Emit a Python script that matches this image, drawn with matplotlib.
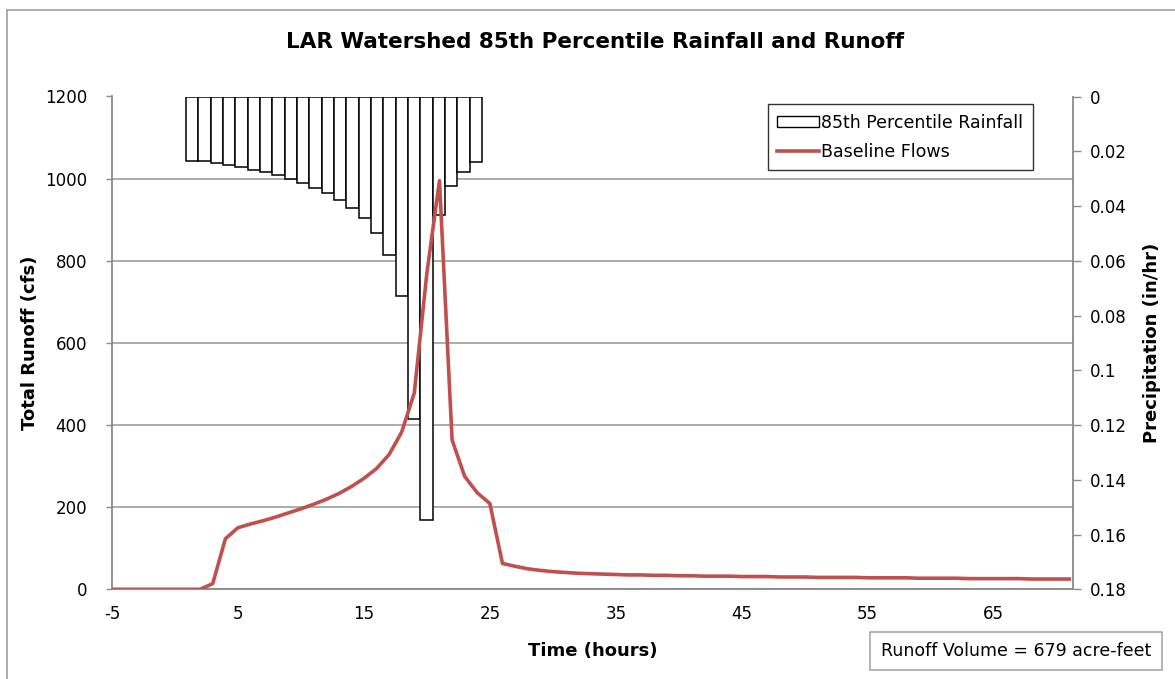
import numpy as np
import matplotlib
matplotlib.use("Agg")
import matplotlib.pyplot as plt
from matplotlib.lines import Line2D
from matplotlib.patches import Patch

# ── Data ─────────────────────────────────────────────────────────────────────
TIME_HR = np.arange(-5, 72)          # hourly time steps
RUNOFF_CFS = [
    0, 0, 0, 0, 0, 0, 0, 0,           # -5 .. 2
    14, 123, 150, 159, 167, 176, 186, 196, 207, 219,   # 3 .. 12
    233, 250, 270, 294, 328, 383, 478, 770, 995, 364,  # 13 .. 22
    275, 235, 209, 63, 56, 50, 46, 43, 41, 39,         # 23 .. 32
    38, 37, 36, 35, 35, 34, 34, 33, 33, 32,            # 33 .. 42
    32, 32, 31, 31, 31, 30, 30, 30, 29, 29,            # 43 .. 52
    29, 29, 28, 28, 28, 28, 27, 27, 27, 27,            # 53 .. 62
    26, 26, 26, 26, 26, 25, 25, 25, 25,                # 63 .. 71
]

RAIN_HOUR = np.arange(1, 25)
RAIN_INHR = [
    0.0234, 0.0237, 0.0244, 0.0251, 0.0259, 0.0268, 0.0277, 0.0288,
    0.0301, 0.0317, 0.0333, 0.0353, 0.0377, 0.0406, 0.0445, 0.0500,
    0.0579, 0.0728, 0.1177, 0.1548, 0.0432, 0.0326, 0.0274, 0.0241,
]

X_TICKS = [-5, 5, 15, 25, 35, 45, 55, 65]
Q_TICKS = [0, 200, 400, 600, 800, 1000, 1200]
P_TICKS = [0, 0.02, 0.04, 0.06, 0.08, 0.1, 0.12, 0.14, 0.16, 0.18]
P_LABELS = ["0", "0.02", "0.04", "0.06", "0.08", "0.1", "0.12", "0.14", "0.16", "0.18"]

# ── Style ────────────────────────────────────────────────────────────────────
W, H, DPI = 1175, 679, 100
RED = "#C0504D"
GRID = "#A6A6A6"
AXIS = "#898989"
BAR_X0, BAR_STEP = 0.88, 0.979      # secondary category axis offset in Excel
TICK_FS = 12

plt.rcParams["font.family"] = ["DejaVu Sans"]
plt.rcParams["axes.unicode_minus"] = False

fig = plt.figure(figsize=(W / DPI, H / DPI), dpi=DPI)
ax = fig.add_axes([112 / W, 1 - 589.3 / H, (1073 - 112) / W, (589.3 - 96.5) / H])
ax2 = ax.twinx()

# runoff axis (left) with gridlines behind the bars
ax.set_xlim(-5, 71.3)
ax.set_ylim(0, 1200)
ax.set_yticks(Q_TICKS)
ax.set_xticks(X_TICKS)
ax.grid(axis="y", color=GRID, lw=1.3)
ax.set_axisbelow(True)
ax.tick_params(axis="x", length=0, pad=11, labelsize=TICK_FS)
ax.tick_params(axis="y", length=4, color=AXIS, width=1, labelsize=TICK_FS, pad=14)
for s in ["top", "right"]:
    ax.spines[s].set_visible(False)
for s in ["left", "bottom"]:
    ax.spines[s].set_color(AXIS)
    ax.spines[s].set_linewidth(1.3)

# precipitation axis (right), inverted
ax2.set_ylim(0.18, 0)
ax2.set_yticks(P_TICKS)
ax2.set_yticklabels(P_LABELS)
ax2.tick_params(axis="y", length=6, color=AXIS, width=1, labelsize=TICK_FS, pad=6)
for s in ["top", "left", "bottom"]:
    ax2.spines[s].set_visible(False)
ax2.spines["right"].set_color(AXIS)
ax2.spines["right"].set_linewidth(1.3)

bar_x = BAR_X0 + (RAIN_HOUR - 1) * BAR_STEP
ax2.bar(bar_x, RAIN_INHR, width=BAR_STEP, align="edge", bottom=0,
        facecolor="white", edgecolor="black", linewidth=1.1, zorder=2)

# runoff line drawn in ax2 so it sits above the bars
ax2.plot(TIME_HR, RUNOFF_CFS, color=RED, lw=2.6, transform=ax.transData,
         zorder=3, solid_joinstyle="round", clip_on=True)

ax.set_xlabel("Time (hours)", fontweight="bold", fontsize=13, labelpad=14)
ax.set_ylabel("Total Runoff (cfs)", fontweight="bold", fontsize=13, labelpad=4)
ax2.set_ylabel("Precipitation (in/hr)", fontweight="bold", fontsize=13, labelpad=12)

fig.text(595 / W, 1 - 42 / H, "LAR Watershed 85th Percentile Rainfall and Runoff",
         ha="center", va="center", fontweight="bold", fontsize=15.5)

handles = [Patch(facecolor="white", edgecolor="black", lw=1.0),
           Line2D([], [], color=RED, lw=2.6)]
leg = ax2.legend(handles, ["85th Percentile Rainfall", "Baseline Flows"],
                 loc="upper right", bbox_to_anchor=(1033 / W, 1 - 104 / H),
                 bbox_transform=fig.transFigure, borderaxespad=0,
                 frameon=True, fancybox=False,
                 handlelength=2.4, handleheight=0.6, handletextpad=0.15,
                 borderpad=0.55, labelspacing=0.65, fontsize=12.5)
leg.get_frame().set_edgecolor("black")
leg.get_frame().set_linewidth(1.0)

fig.text(1016 / W, 1 - 651 / H, "Runoff Volume = 679 acre-feet",
         ha="center", va="center", fontsize=12.5,
         bbox=dict(boxstyle="square,pad=0.6", fc="white", ec=GRID, lw=1.2))

# outer chart border (left and top visible)
fig.add_artist(Line2D([7 / W, 7 / W], [0, 1 - 10 / H], transform=fig.transFigure,
                      color="#A0A0A0", lw=1.2))
fig.add_artist(Line2D([7 / W, 1], [1 - 10 / H, 1 - 10 / H], transform=fig.transFigure,
                      color="#A0A0A0", lw=1.2))

fig.savefig("out.png", dpi=DPI)
